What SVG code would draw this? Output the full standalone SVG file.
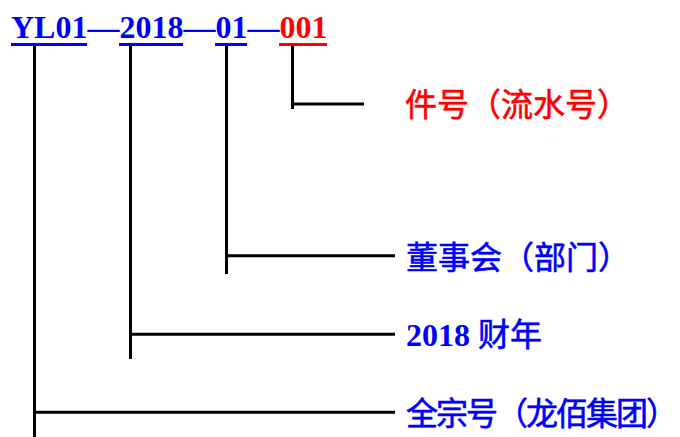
<svg xmlns="http://www.w3.org/2000/svg" width="680" height="437" viewBox="0 0 680 437">
<style>
.hd{font-family:"Liberation Serif","Times New Roman",serif;font-weight:bold;font-size:32px}
.cj{font-family:"Liberation Serif","Noto Sans CJK SC",sans-serif;font-size:32px;stroke-width:0.6}
.b{fill:#0000FF}
.r{fill:#FF0000}
.cj.b{stroke:#0000FF}
.cj.r{stroke:#FF0000}
.ln{stroke:#000;stroke-width:3;fill:none}
</style>
<rect width="680" height="437" fill="#fff"/>
<g id="code">
<text class="hd" x="11" y="38"><tspan class="b">YL01—2018—01—</tspan><tspan class="r">001</tspan></text>
<rect class="b" x="11" y="43" width="76" height="3"/>
<rect class="b" x="119" y="43" width="64" height="3"/>
<rect class="b" x="215" y="43" width="32" height="3"/>
<rect class="r" x="279" y="43" width="48" height="3"/>
</g>
<g id="connectors">
<path class="ln" d="M292.5,46 V109 M292.5,104 H364"/>
<path class="ln" d="M226.5,46 V274 M226.5,255.7 H395"/>
<path class="ln" d="M130.5,46 V359 M130.5,334.2 H395"/>
<path class="ln" d="M34.5,46 V437 M34.5,412.3 H395"/>
</g>
<g id="n-jianhao"><text class="cj r" x="405" y="116">件号（流水号）</text></g>
<g id="n-dept"><text class="cj b" x="406" y="269">董事会（部门）</text></g>
<g id="n-year"><text class="cj b" x="406" y="346"><tspan font-weight="bold" stroke="none">2018</tspan> 财年</text></g>
<g id="n-fonds"><text class="cj b" x="406" y="425" textLength="272" lengthAdjust="spacing">全宗号（龙佰集团）</text></g>
</svg>
